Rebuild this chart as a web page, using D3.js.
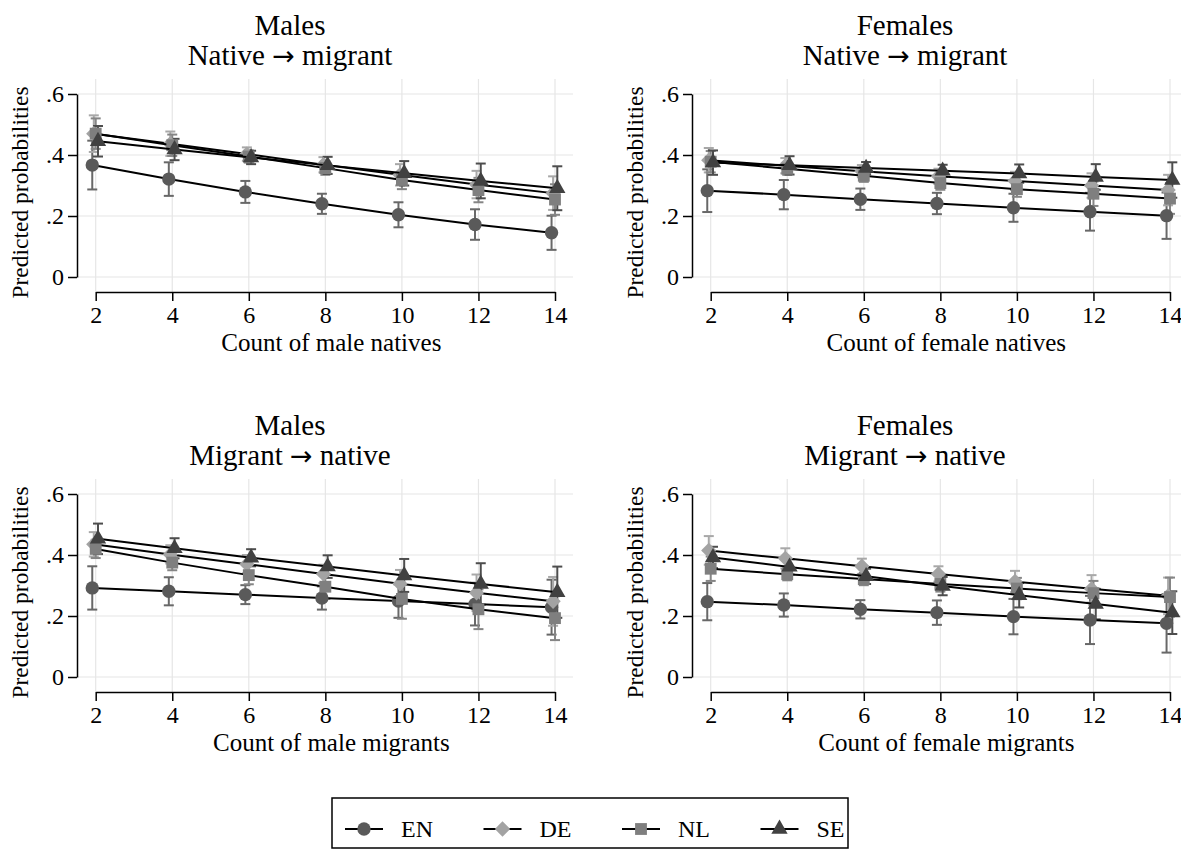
<!DOCTYPE html>
<html>
<head>
<meta charset="utf-8">
<script src="https://cdn.jsdelivr.net/npm/d3@7"></script>
<style>
  html, body { margin: 0; padding: 0; background: #fff; }
  svg { display: block; }
  text { font-family: "Liberation Serif", "Times New Roman", serif; fill: #000; }
</style>
</head>
<body>
<svg id="chart" width="1181" height="850"></svg>
<script>
// ---------- data ----------
const counts = [2, 4, 6, 8, 10, 12, 14];
const seriesNames = ["EN", "DE", "NL", "SE"];
const yTicks = [0, 0.2, 0.4, 0.6];
const dodge = [-0.09, -0.05, 0.0, 0.06];

const panelTitles1 = ["Males", "Females", "Males", "Females"];
const panelFrom = ["Native", "Native", "Migrant", "Migrant"];
const panelTo = ["migrant", "migrant", "native", "native"];
const xTitles = ["Count of male natives", "Count of female natives", "Count of male migrants", "Count of female migrants"];
const yTitle = "Predicted probabilities";

// Panel 1: Males, native -> migrant
const p1_EN = [0.367, 0.321, 0.279, 0.240, 0.204, 0.172, 0.145];
const p1_EN_ci = [0.080, 0.055, 0.036, 0.033, 0.041, 0.050, 0.056];
const p1_DE = [0.470, 0.437, 0.403, 0.368, 0.335, 0.303, 0.275];
const p1_DE_ci = [0.060, 0.040, 0.022, 0.025, 0.035, 0.045, 0.055];
const p1_NL = [0.470, 0.432, 0.395, 0.357, 0.318, 0.285, 0.254];
const p1_NL_ci = [0.050, 0.035, 0.020, 0.022, 0.030, 0.040, 0.050];
const p1_SE = [0.445, 0.418, 0.392, 0.366, 0.340, 0.315, 0.291];
const p1_SE_ci = [0.050, 0.035, 0.022, 0.028, 0.040, 0.057, 0.072];

// Panel 2: Females, native -> migrant
const p2_EN = [0.283, 0.270, 0.255, 0.241, 0.227, 0.214, 0.201];
const p2_EN_ci = [0.070, 0.048, 0.035, 0.035, 0.046, 0.062, 0.076];
const p2_DE = [0.383, 0.365, 0.347, 0.330, 0.315, 0.300, 0.285];
const p2_DE_ci = [0.040, 0.025, 0.020, 0.025, 0.030, 0.040, 0.050];
const p2_NL = [0.378, 0.355, 0.332, 0.308, 0.288, 0.273, 0.257];
const p2_NL_ci = [0.035, 0.020, 0.020, 0.022, 0.025, 0.040, 0.050];
const p2_SE = [0.375, 0.366, 0.357, 0.348, 0.339, 0.328, 0.318];
const p2_SE_ci = [0.040, 0.030, 0.020, 0.020, 0.030, 0.042, 0.058];

// Panel 3: Males, migrant -> native
const p3_EN = [0.292, 0.281, 0.270, 0.259, 0.249, 0.239, 0.229];
const p3_EN_ci = [0.071, 0.046, 0.031, 0.038, 0.055, 0.070, 0.090];
const p3_DE = [0.435, 0.402, 0.370, 0.338, 0.306, 0.276, 0.248];
const p3_DE_ci = [0.040, 0.030, 0.030, 0.030, 0.045, 0.060, 0.080];
const p3_NL = [0.420, 0.375, 0.334, 0.296, 0.256, 0.222, 0.193];
const p3_NL_ci = [0.030, 0.025, 0.030, 0.040, 0.065, 0.065, 0.072];
const p3_SE = [0.453, 0.422, 0.391, 0.362, 0.333, 0.305, 0.278];
const p3_SE_ci = [0.050, 0.033, 0.028, 0.037, 0.054, 0.068, 0.084];

// Panel 4: Females, migrant -> native
const p4_EN = [0.247, 0.236, 0.222, 0.211, 0.198, 0.187, 0.176];
const p4_EN_ci = [0.061, 0.038, 0.030, 0.040, 0.058, 0.079, 0.096];
const p4_DE = [0.415, 0.389, 0.363, 0.338, 0.313, 0.289, 0.266];
const p4_DE_ci = [0.047, 0.033, 0.025, 0.025, 0.035, 0.045, 0.060];
const p4_NL = [0.355, 0.337, 0.321, 0.305, 0.290, 0.275, 0.262];
const p4_NL_ci = [0.040, 0.020, 0.020, 0.025, 0.035, 0.040, 0.064];
const p4_SE = [0.392, 0.361, 0.330, 0.298, 0.268, 0.239, 0.211];
const p4_SE_ci = [0.035, 0.025, 0.025, 0.030, 0.040, 0.050, 0.070];

const panelValues = [
  [p1_EN, p1_DE, p1_NL, p1_SE],
  [p2_EN, p2_DE, p2_NL, p2_SE],
  [p3_EN, p3_DE, p3_NL, p3_SE],
  [p4_EN, p4_DE, p4_NL, p4_SE]
];
const panelCIs = [
  [p1_EN_ci, p1_DE_ci, p1_NL_ci, p1_SE_ci],
  [p2_EN_ci, p2_DE_ci, p2_NL_ci, p2_SE_ci],
  [p3_EN_ci, p3_DE_ci, p3_NL_ci, p3_SE_ci],
  [p4_EN_ci, p4_DE_ci, p4_NL_ci, p4_SE_ci]
];

// ---------- styles ----------
const markerFill = ["#5a5a5a", "#a3a3a3", "#7f7f7f", "#414141"];
const ciColor = ["#686868", "#a8a8a8", "#858585", "#4d4d4d"];
const symbolTypes = [d3.symbolCircle, d3.symbolSquare, d3.symbolSquare, d3.symbolTriangle];
const symbolSizes = [140, 118, 140, 115];
const symbolRotate = [0, 45, 0, 0];

const svg = d3.select("#chart");
const font = '"Liberation Serif", "Times New Roman", serif';

function drawSymbol(g, i, x, y) {
  g.append("path")
    .attr("d", d3.symbol().type(symbolTypes[i]).size(symbolSizes[i])())
    .attr("transform", `translate(${x},${y}) rotate(${symbolRotate[i]})`)
    .attr("fill", markerFill[i]);
}

function drawPanel(p) {
  const col = p % 2, row = Math.floor(p / 2);
  const ax = 77 + col * 615;       // y-axis line x
  const dy = row * 400;
  const x = d3.scaleLinear().domain([2, 14]).range([ax + 18.7, ax + 478]);
  const y = d3.scaleLinear().domain([0, 0.6]).range([277 + dy, 94 + dy]);
  const xAxisY = 292 + dy;
  const plotTop = 79 + dy;
  const plotRight = ax + 496;
  const g = svg.append("g");

  // gridlines
  g.selectAll(".vg").data(counts).enter().append("line")
    .attr("x1", d => x(d)).attr("x2", d => x(d))
    .attr("y1", plotTop).attr("y2", xAxisY)
    .attr("stroke", "#e6e6e6").attr("stroke-width", 1.2);
  g.selectAll(".hg").data(yTicks).enter().append("line")
    .attr("x1", ax + 1).attr("x2", plotRight)
    .attr("y1", d => y(d)).attr("y2", d => y(d))
    .attr("stroke", "#e6e6e6").attr("stroke-width", 1.2);

  // axes
  const yAxis = d3.axisLeft(y).tickValues(yTicks).tickSize(9).tickSizeOuter(0).tickPadding(4)
    .tickFormat(d => d === 0 ? "0" : d3.format(".1f")(d).replace(/^0/, ""));
  const ya = g.append("g").attr("transform", `translate(${ax},0)`).call(yAxis);
  const xAxis = d3.axisBottom(x).tickValues(counts).tickSize(9).tickSizeOuter(0).tickPadding(5);
  const xa = g.append("g").attr("transform", `translate(0,${xAxisY})`).call(xAxis);
  [ya, xa].forEach(a => {
    a.selectAll("path,line").attr("stroke", "#000").attr("stroke-width", 1.5);
    a.selectAll("text").attr("font-family", font).attr("font-size", 24).attr("fill", "#000");
  });

  // titles
  const tcx = 290 + col * 615;
  g.append("text").attr("x", tcx).attr("y", 35 + dy).attr("text-anchor", "middle")
    .attr("font-size", 29).text(panelTitles1[p]);
  const t2 = g.append("text").attr("x", tcx).attr("y", 65 + dy).attr("text-anchor", "middle")
    .attr("font-size", 29);
  t2.append("tspan").text(panelFrom[p] + " ");
  t2.append("tspan").attr("font-family", '"DejaVu Sans", sans-serif').attr("font-size", 27).text("\u2192");
  t2.append("tspan").text(" " + panelTo[p]);

  g.append("text").attr("x", (x(2) + x(14)) / 2 + 6).attr("y", 351 + dy).attr("text-anchor", "middle")
    .attr("font-size", 25).text(xTitles[p]);
  g.append("text").attr("transform", `translate(${ax - 49},${(y(0) + y(0.6)) / 2 + 7}) rotate(-90)`)
    .attr("text-anchor", "middle").attr("font-size", 23.5).text(yTitle);

  const vals = panelValues[p], cis = panelCIs[p];
  // CIs
  seriesNames.forEach((s, i) => {
    counts.forEach((c, k) => {
      const cx = x(c + dodge[i]);
      const lo = y(vals[i][k] - cis[i][k]), hi = y(vals[i][k] + cis[i][k]);
      g.append("line").attr("x1", cx).attr("x2", cx).attr("y1", lo).attr("y2", hi)
        .attr("stroke", ciColor[i]).attr("stroke-width", 2);
      [lo, hi].forEach(yy => g.append("line").attr("x1", cx - 5).attr("x2", cx + 5)
        .attr("y1", yy).attr("y2", yy).attr("stroke", ciColor[i]).attr("stroke-width", 2));
    });
  });
  // lines + markers
  seriesNames.forEach((s, i) => {
    const line = d3.line().x((d, k) => x(counts[k] + dodge[i])).y(d => y(d));
    g.append("path").attr("d", line(vals[i])).attr("fill", "none")
      .attr("stroke", "#000").attr("stroke-width", 2);
    vals[i].forEach((v, k) => drawSymbol(g, i, x(counts[k] + dodge[i]), y(v)));
  });
}

[0, 1, 2, 3].forEach(drawPanel);

// legend
const lg = svg.append("g");
const lx = 332, ly = 798, lw = 516, lh = 50;
lg.append("rect").attr("x", lx).attr("y", ly).attr("width", lw).attr("height", lh)
  .attr("fill", "#fff").attr("stroke", "#000").attr("stroke-width", 1.5);
seriesNames.forEach((s, i) => {
  const kx = 345 + i * 138.5, cy = ly + 31;
  lg.append("line").attr("x1", kx).attr("x2", kx + 38).attr("y1", cy).attr("y2", cy)
    .attr("stroke", "#000").attr("stroke-width", 2);
  drawSymbol(lg, i, kx + 19, cy);
  lg.append("text").attr("x", kx + 56).attr("y", cy + 8).attr("font-size", 24).text(s);
});
</script>
</body>
</html>
